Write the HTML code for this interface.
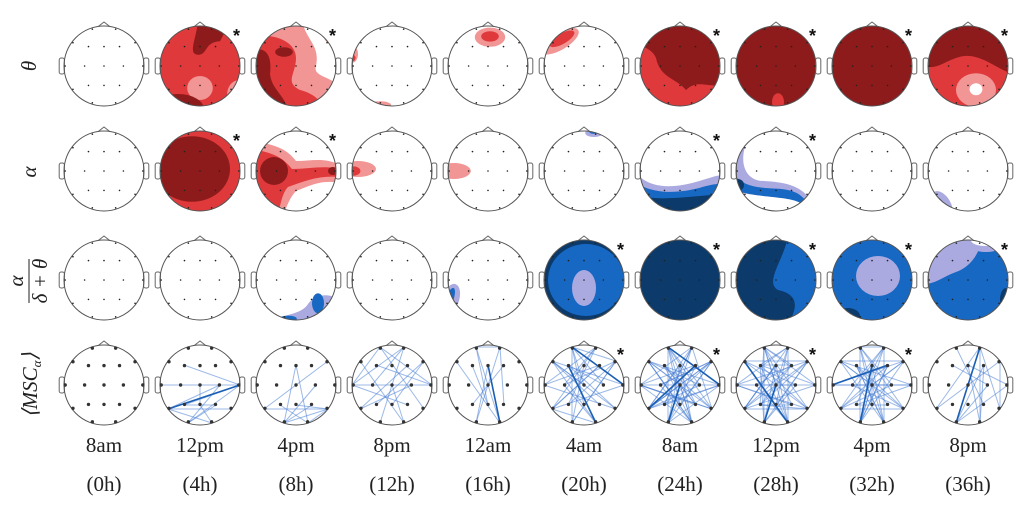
<!DOCTYPE html>
<html><head><meta charset="utf-8">
<style>
html,body{margin:0;padding:0;background:#fff}
svg{display:block}
.lbl{font-family:"Liberation Serif",serif;font-size:21px;fill:#222}
</style></head>
<body>
<svg id="fig" width="1024" height="511" viewBox="0 0 1024 511" xmlns="http://www.w3.org/2000/svg">
<defs><clipPath id="hc"><circle cx="0" cy="0" r="1"/></clipPath></defs>
<g id="heads"></g>
<text class="lbl" x="30" y="72" font-style="italic" text-anchor="middle" transform="rotate(-90 30 66)">θ</text>
<text class="lbl" x="30" y="178" font-style="italic" text-anchor="middle" transform="rotate(-90 30 172)">α</text>
<g transform="rotate(-90 30 281)">
<text class="lbl" x="30" y="274" font-style="italic" text-anchor="middle">α</text>
<line x1="8" y1="280" x2="52" y2="280" stroke="#222" stroke-width="1"/>
<text class="lbl" x="30" y="298" font-style="italic" text-anchor="middle">δ + θ</text>
</g>
<text class="lbl" x="30" y="392" font-style="italic" text-anchor="middle" transform="rotate(-90 30 385)">⟨MSC<tspan font-size="13" dy="4">α</tspan><tspan dy="-4">⟩</tspan></text>
<g id="xlabels"></g>
</svg>
<script>
const times = ["8am","12pm","4pm","8pm","12am","4am","8am","12pm","4pm","8pm"];
const hours = ["(0h)","(4h)","(8h)","(12h)","(16h)","(20h)","(24h)","(28h)","(32h)","(36h)"];
const stars = [[1,2,6,7,8,9],[1,2,6,7],[5,6,7,8,9],[5,6,7,8]];
const elec = [[-0.3,-0.95],[0.3,-0.95],[-0.8,-0.6],[-0.4,-0.5],[0,-0.5],[0.4,-0.5],[0.8,-0.6],
[-1,0],[-0.5,0],[0,0],[0.5,0],[1,0],[-0.8,0.6],[-0.4,0.5],[0,0.5],[0.4,0.5],[0.8,0.6],[-0.3,0.95],[0.3,0.95]];
const edges = [
[],
[[3,11],[7,11],[12,11],[13,11],[12,16],[13,15],[17,15],[17,11],[9,14],[10,17],[12,18],[14,18],[12,10]],
[[4,17],[4,18],[12,6],[12,16],[17,15],[17,16],[18,16],[13,18],[10,17],[14,16]],
[[0,11],[0,7],[1,7],[3,11],[7,11],[8,1],[9,18],[13,6],[12,5],[14,6],[17,1],[18,2],[16,0],[15,7],[10,12]],
[[0,1],[0,18],[1,17],[2,18],[4,17],[4,18],[3,14],[5,13],[0,14],[1,15]],
[[0,11],[0,17],[0,6],[1,12],[2,16],[2,11],[3,18],[4,17],[5,12],[6,13],[6,17],[7,1],[7,16],[8,18],[9,2],[10,0],[11,12],[12,5],[13,1],[14,0],[15,2],[16,3],[17,6],[18,2],[0,9],[3,10],[8,6],[12,18],[7,5],[1,8]],
[[0,11],[0,17],[0,18],[1,12],[1,17],[1,16],[2,16],[2,18],[3,18],[3,15],[4,17],[4,18],[5,12],[5,17],[6,13],[6,12],[7,1],[7,16],[7,11],[8,18],[8,6],[9,2],[9,17],[10,0],[10,12],[11,12],[11,2],[12,6],[13,1],[13,11],[14,0],[14,2],[15,7],[15,3],[16,7],[16,0],[17,6],[17,11],[18,2],[18,7],[0,15],[1,13],[3,16],[4,12],[5,7],[6,8],[2,10],[9,18],[9,12],[14,6]],
[[0,11],[0,17],[0,16],[1,12],[1,17],[1,18],[2,6],[2,18],[3,5],[3,17],[4,18],[4,12],[5,12],[5,13],[6,13],[6,17],[7,1],[7,6],[7,16],[8,18],[8,5],[9,0],[9,17],[10,2],[10,17],[11,12],[11,3],[12,4],[13,0],[13,16],[14,1],[14,2],[15,0],[15,7],[16,3],[17,4],[18,0],[2,16],[6,12],[3,18],[0,5],[1,3],[7,11],[8,10],[12,16],[13,15],[2,14],[6,14]],
[[0,17],[0,18],[1,17],[1,18],[0,16],[1,12],[2,11],[2,18],[3,18],[3,16],[4,17],[4,18],[5,12],[5,17],[6,7],[6,17],[7,11],[7,5],[8,16],[8,1],[9,2],[9,6],[10,12],[10,0],[11,13],[12,6],[13,1],[14,0],[15,3],[16,2],[17,5],[18,3],[4,14],[7,10],[8,11],[12,16],[2,6],[0,1],[13,15],[9,17]],
[[1,17],[1,12],[5,17],[4,18],[1,18],[6,12],[10,17],[5,18],[11,17],[0,15],[6,16],[4,11],[3,10],[9,1],[16,1]]
];
const heavy = [[],[[12,11]],[],[],[[4,18]],[[3,18],[0,11]],[[0,11],[9,17],[5,12]],[[9,17],[2,18]],[[4,17],[7,5]],[[1,17]]];

const R="#8e1b1b",M="#e0393b",L="#f29595",BD="#0b3a6b",BM="#1768c2",BL="#abaae0",W="#ffffff";
const FULL="M-1.1,-1.1H1.1V1.1H-1.1Z";
const E=(x,y,rx,ry,c,rot)=>({e:[x,y,rx,ry,rot||0],c});
const P=(d,c)=>({d,c});
const shapes=[
[[],
 [P(FULL,M),P("M-0.05,-1.1 C-0.12,-0.6 -0.3,-0.3 -0.05,-0.28 C0.2,-0.28 0.1,-0.6 0.5,-0.62 L0.75,-1.1Z",R),E(0,0.55,0.32,0.3,L),E(0.98,0.7,0.3,0.35,L),E(-0.55,1.08,0.65,0.38,R)],
 [P("M-1.1,-1.1 L0.15,-1.1 C0.3,-0.6 0.6,-0.5 0.5,0 C0.4,0.3 1,0.25 1.1,0.6 L1.1,1.1 L-1.1,1.1Z",L),P("M-1.1,-0.75 C-0.5,-0.82 0,-0.6 0,-0.2 C0,0.2 -0.3,0.4 0.1,0.6 C0.5,0.7 0.6,0.9 0.8,1.1 L-1.1,1.1Z",M),P("M-1.1,-0.4 C-0.7,-0.5 -0.6,-0.2 -0.65,0.2 C-0.6,0.6 -0.3,0.7 -0.2,1.1 L-1.1,1.1Z",R),E(-0.3,-0.35,0.22,0.12,R),E(0.9,-0.75,0.2,0.2,L)],
 [E(-1,-0.3,0.15,0.22,L),E(-0.98,-0.2,0.07,0.08,M),E(-0.3,0.98,0.28,0.1,L)],
 [E(0.05,-0.72,0.38,0.24,L),E(0.05,-0.74,0.22,0.13,M)],
 [E(-0.62,-0.62,0.55,0.22,L,-30),E(-0.55,-0.68,0.35,0.13,M,-30)],
 [P(FULL,M),P("M-1.1,-1.1 L1.1,-1.1 L1.1,0.5 C0.6,0.5 0.4,0.35 0.15,0.6 C-0.1,0.3 -0.5,0.3 -0.6,-0.2 C-0.7,-0.45 -1,-0.5 -1.1,-0.55Z",R)],
 [P(FULL,R),E(0.05,0.9,0.15,0.22,M)],
 [P(FULL,R)],
 [P(FULL,M),P("M-1.1,-1.1 L1.1,-1.1 L1.1,0.2 C0.6,0 0.2,-0.4 -0.3,-0.2 C-0.6,-0.1 -0.8,0.1 -1.1,0Z",R),E(0.2,0.6,0.5,0.42,L),E(0.2,0.58,0.16,0.15,W)]
],
[[],
 [P(FULL,M),E(-0.2,-0.05,0.95,0.82,R)],
 [P("M-1.1,-0.75 C-0.4,-0.65 -0.2,-0.5 0,-0.25 C0.4,-0.25 0.7,-0.35 1.1,-0.15 L1.1,0.3 C0.6,0.2 0.3,0.4 0,0.5 C-0.2,0.7 -0.3,1.1 -0.3,1.1 L-1.1,1.1Z",L),P("M-1.1,-0.55 C-0.5,-0.45 -0.3,-0.3 -0.1,-0.05 C0.3,-0.05 0.7,-0.15 1.1,-0.05 L1.1,0.15 C0.6,0.1 0.2,0.25 -0.2,0.4 C-0.4,0.6 -0.4,1.1 -0.5,1.1 L-1.1,1.1Z",M),E(-0.55,0,0.35,0.35,R),E(0.92,0,0.12,0.1,R)],
 [E(-0.85,-0.05,0.45,0.2,L),E(-0.97,0,0.18,0.12,M)],
 [E(-0.85,0,0.42,0.2,L)],
 [E(0.25,-0.95,0.22,0.1,BL),E(0.25,-0.98,0.12,0.05,BM)],
 [P("M-1.1,0.05 C-0.8,0.4 -0.3,0.45 0.3,0.3 C0.7,0.2 0.9,0.1 1.1,0.1 L1.1,1.1 L-1.1,1.1Z",BL),P("M-1.1,0.3 C-0.6,0.6 0,0.55 0.5,0.42 C0.8,0.32 1,0.32 1.1,0.32 L1.1,1.1 L-1.1,1.1Z",BM),P("M-1.1,0.6 C-0.5,0.78 0.3,0.62 1.1,0.58 L1.1,1.1 L-1.1,1.1Z",BD)],
 [P("M-0.5,-1.1 C-1,-0.5 -0.9,0.25 -0.3,0.25 C0.2,0.28 0.6,0.35 0.85,0.7 L0.7,0.82 C0.4,0.5 -0.5,0.75 -1.1,0.45 L-1.1,-1.1Z",BL),P("M-1.1,0 C-0.9,0.4 -0.4,0.42 0,0.44 C0.4,0.46 0.6,0.55 0.75,0.75 L0.65,0.82 C0.3,0.6 -0.5,0.7 -1.1,0.45Z",BM),E(-0.95,0.35,0.15,0.15,BD)],
 [],
 [E(-0.65,0.85,0.22,0.38,BL,-30),E(-0.68,0.9,0.12,0.28,BM,-30)]
],
[[],[],
 [P("M-0.6,1.1 C-0.3,0.8 0.1,0.9 0.3,0.6 C0.5,0.3 0.9,0.35 1.1,0.5 L1.1,1.1Z",BL),E(0.55,0.58,0.15,0.25,BM),E(-0.2,0.97,0.22,0.08,BM)],
 [],
 [E(-0.95,0.5,0.22,0.42,BL,20),E(-0.97,0.5,0.1,0.32,BM,20)],
 [P(FULL,BD),E(0.05,0,0.95,0.9,BM),E(0,0.2,0.3,0.45,BL)],
 [P(FULL,BD)],
 [P(FULL,BD),P("M0.3,-1.1 L1.1,-1.1 L1.1,1.1 L0.3,1.1 C0.6,0.6 0.5,0.35 0.05,0.25 C-0.3,0.05 0.2,-0.5 0.3,-1.1Z",BM)],
 [P(FULL,BM),E(0.15,-0.1,0.55,0.5,BL),E(-0.6,0.9,0.3,0.2,BD)],
 [P(FULL,BM),P("M-1.1,-1.1 L0.35,-1.1 C0.3,-0.6 0,-0.3 -0.3,-0.2 C-0.6,-0.1 -0.8,0.1 -1.1,0.1Z",BL),E(0.45,-0.95,0.5,0.25,BL),E(0.42,-1,0.35,0.15,W),E(0.95,0.5,0.15,0.3,BD)]
]
];

const NS="http://www.w3.org/2000/svg";
const mk=(t,a,p)=>{const e=document.createElementNS(NS,t);for(const k in a)e.setAttribute(k,a[k]);p.appendChild(e);return e;};
const heads=document.getElementById('heads');
const cxs=i=>104+96*i, cys=[66,171,280,385], RAD=40;
const rowNames=["theta","alpha","ratio","msc"];
for(let r=0;r<4;r++)for(let c=0;c<10;c++){
  const g=mk('g',{transform:`translate(${cxs(c)},${cys[r]})`},heads);
  
  
  const s=mk('g',{transform:`scale(${RAD})`},g);
  const cl=mk('g',{'clip-path':'url(#hc)'},s);
  if(r<3){for(const sh of shapes[r][c]){
    if(sh.d)mk('path',{d:sh.d,fill:sh.c},cl);
    else mk('ellipse',{cx:sh.e[0],cy:sh.e[1],rx:sh.e[2],ry:sh.e[3],fill:sh.c,transform:`rotate(${sh.e[4]} ${sh.e[0]} ${sh.e[1]})`},cl);
  }}
  mk('path',{d:"M-0.14,-0.99 L0,-1.1 L0.14,-0.99",fill:"none",stroke:"#666","stroke-width":1,"vector-effect":"non-scaling-stroke"},s);
  mk('rect',{x:-1.12,y:-0.2,width:0.13,height:0.4,rx:0.05,fill:"#fff",stroke:"#666","stroke-width":1,"vector-effect":"non-scaling-stroke"},s);
  mk('rect',{x:0.99,y:-0.2,width:0.13,height:0.4,rx:0.05,fill:"#fff",stroke:"#666","stroke-width":1,"vector-effect":"non-scaling-stroke"},s);
  mk('circle',{cx:0,cy:0,r:1,fill:"none",stroke:"#555","stroke-width":1,"vector-effect":"non-scaling-stroke"},s);
  if(r===3){
    for(const [a,b] of edges[c]){const l=mk('line',{x1:elec[a][0]*RAD,y1:elec[a][1]*RAD,x2:elec[b][0]*RAD,y2:elec[b][1]*RAD,stroke:"#4a80d4","stroke-opacity":0.55,"stroke-width":1},g);
      
      }
    for(const [a,b] of heavy[c]){mk('line',{x1:elec[a][0]*RAD,y1:elec[a][1]*RAD,x2:elec[b][0]*RAD,y2:elec[b][1]*RAD,stroke:"#1a5fb4","stroke-width":1.6},g);}
  }
  for(const [x,y] of elec){mk('circle',{cx:x*RAD*0.97,cy:y*RAD*0.97,r:r===3?1.7:0.8,fill:r===3?"#333":"#222"},g);}
  if(stars[r].includes(c)){const t=mk('text',{x:33,y:-24,"font-family":"Liberation Sans, sans-serif","font-size":18,"font-weight":"bold",fill:"#111"},g);t.textContent="*";
    
    }
}
const xl=document.getElementById('xlabels');
for(let c=0;c<10;c++){
  const t=mk('text',{x:cxs(c),y:452,class:"lbl","text-anchor":"middle"},xl);t.textContent=times[c];
  
  
  const h=mk('text',{x:cxs(c),y:491,class:"lbl","text-anchor":"middle"},xl);h.textContent=hours[c];
  
  
}
</script>
</body></html>
